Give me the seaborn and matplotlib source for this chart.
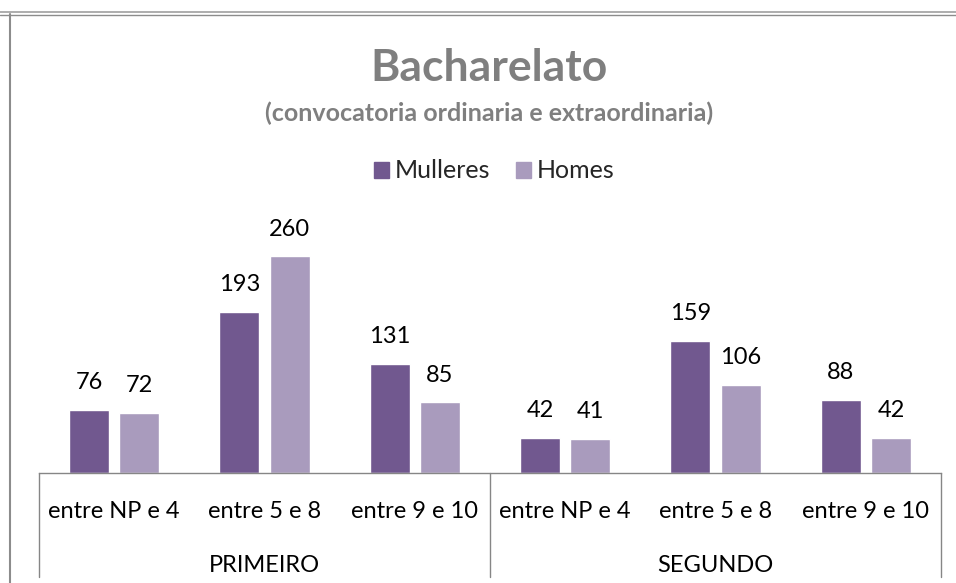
import pandas as pd
import seaborn as sns
import matplotlib.pyplot as plt
from matplotlib.lines import Line2D
from matplotlib.patches import Patch

groups = ["PRIMEIRO", "SEGUNDO"]
ranges = ["entre NP e 4", "entre 5 e 8", "entre 9 e 10"]
mulleres = [76, 193, 131, 42, 159, 88]
homes = [72, 260, 85, 41, 106, 42]
series = ["Mulleres", "Homes"]
colors = ["#71588F", "#A99BBD"]

keys = [f"{g}|{r}" for g in groups for r in ranges]
df = pd.DataFrame({
    "cat": keys * 2,
    "sexo": ["Mulleres"] * 6 + ["Homes"] * 6,
    "valor": mulleres + homes,
})

sns.set_style("white")
plt.rcParams["font.family"] = ["Lato", "DejaVu Sans"]

fig = plt.figure(figsize=(9.56, 5.83), dpi=100)
ax = fig.add_axes([39 / 956, 110 / 583, 902 / 956, 250 / 583])

sns.barplot(data=df, x="cat", y="valor", hue="sexo", order=keys,
            hue_order=series, palette=colors, width=0.667, gap=0.2,
            saturation=1, ax=ax, legend=False)

for cont in ax.containers:
    ax.bar_label(cont, padding=12, fontsize=17, color="black")

ax.set_xlim(-0.5, 5.5)
ax.set_ylim(0, 300)
ax.set_xlabel("")
ax.set_ylabel("")
ax.set_yticks([])
ax.set_xticks([])
for s in ["top", "right", "left"]:
    ax.spines[s].set_visible(False)
ax.spines["bottom"].set_color("#868686")
ax.spines["bottom"].set_linewidth(1)

# multi-level category axis
trans = ax.get_xaxis_transform()
for i, k in enumerate(keys):
    ax.text(i, -0.152, k.split("|")[1], transform=trans, ha="center",
            va="center", fontsize=17, color="black")
for j, g in enumerate(groups):
    ax.text(3 * j + 1, -0.37, g, transform=trans, ha="center",
            va="center", fontsize=17, color="black")
for xv in [-0.5, 2.5, 5.5]:
    ax.plot([xv, xv], [0, -0.416], transform=trans, color="#868686",
            lw=1, clip_on=False)

cx = 489 / 956
fig.text(cx, 1 - 68 / 583, "Bacharelato", ha="center", va="center",
         fontsize=32, fontweight="bold", color="#7F7F7F")
fig.text(cx, 1 - 113 / 583, "(convocatoria ordinaria e extraordinaria)",
         ha="center", va="center", fontsize=18, fontweight="bold",
         color="#7F7F7F")

handles = [Patch(color=c) for c in colors]
fig.legend(handles, series, loc="center", bbox_to_anchor=(494 / 956, 1 - 171 / 583),
           ncol=2, frameon=False, fontsize=18, handlelength=0.6,
           handleheight=0.6, handletextpad=0.22, columnspacing=1.05)

# chart frame
fig.add_artist(Line2D([0, 1], [1 - 12 / 583, 1 - 12 / 583], color="#A0A0A0", lw=1.2))
fig.add_artist(Line2D([0, 1], [1 - 15 / 583, 1 - 15 / 583], color="#8C8C8C", lw=1))
fig.add_artist(Line2D([10 / 956, 10 / 956], [0, 1 - 14 / 583], color="#8C8C8C", lw=1.5))

fig.savefig("out.png", dpi=100)
